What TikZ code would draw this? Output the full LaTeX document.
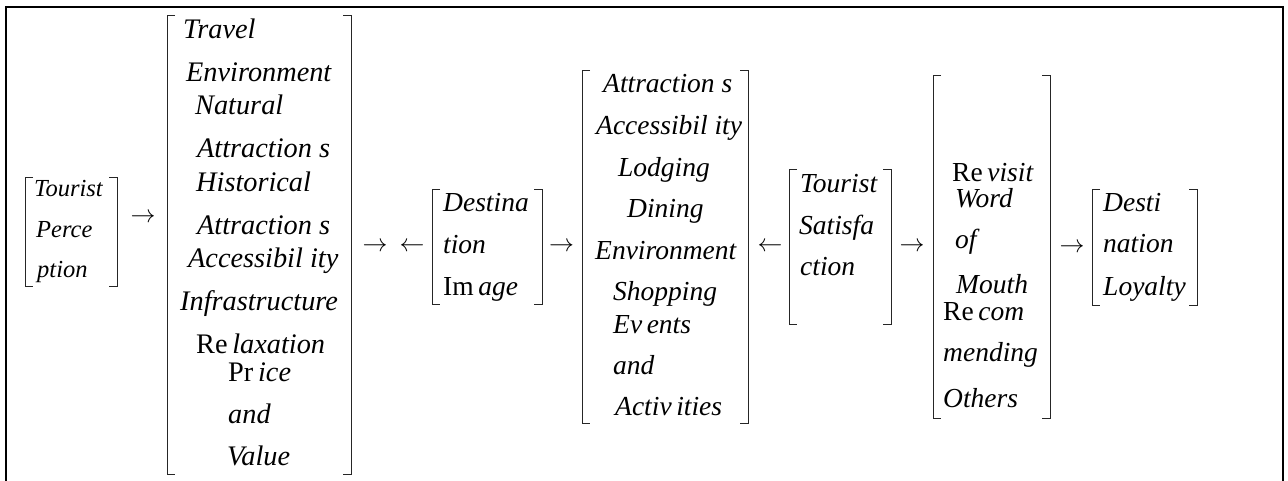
\documentclass[tikz,border=0pt]{standalone}
\usepackage{fontspec}
\setmainfont{Liberation Serif}
\newcommand\drawbrk[1]{%
  \draw[brk] ([xshift=8pt]#1.north west) -- (#1.north west) -- (#1.south west) -- ([xshift=8pt]#1.south west);
  \draw[brk] ([xshift=-8pt]#1.north east) -- (#1.north east) -- (#1.south east) -- ([xshift=-8pt]#1.south east);}
\tikzset{
  brk/.style={line width=0.9pt, black!85},
  frame/.style={line width=2pt, black},
  grp/.style={draw=none, inner sep=0pt, outer sep=0pt},
  lbl/.style={anchor=base west, inner sep=0pt, font=\fontsize{27.5}{30}\selectfont\itshape},
  lblbig/.style={anchor=base west, inner sep=0pt, font=\fontsize{28.3}{30}\selectfont\itshape},
  lblsm/.style={anchor=base west, inner sep=0pt, font=\fontsize{24.5}{27}\selectfont\itshape},
  arr/.style={inner sep=0pt, font=\fontsize{26}{28}\selectfont},
  arrbig/.style={inner sep=0pt, font=\fontsize{30}{32}\selectfont},
}
\begin{document}
\begin{tikzpicture}[x=1pt,y=-1pt]
\useasboundingbox (0,0) rectangle (1288,481);
% frame
\draw[frame] (6,481) -- (6,7) -- (1283,7) -- (1283,481);

% group 1: Tourist Perception
\node[grp, minimum width=92pt, minimum height=109pt] (g1) at (71,231.5) {};
\drawbrk{g1}
\node[lblsm] (g1a) at (34,197) {Tourist};
\node[lblsm] (g1b) at (36,237) {Perce};
\node[lblsm] (g1c) at (37,277) {ption};

\node[arrbig] (a1) at (143,218) {$\rightarrow$};

% group 2: big list
\node[grp, minimum width=184pt, minimum height=459pt] (g2) at (259,244.5) {};
\drawbrk{g2}
\node[lblbig] (g2a) at (183,39) {Travel};
\node[lblbig] (g2b) at (186,82) {Environment};
\node[lblbig] (g2c) at (195,115) {Natural};
\node[lblbig] (g2d) at (197,158) {Attraction s};
\node[lblbig] (g2e) at (196,192) {Historical};
\node[lblbig] (g2f) at (197,235) {Attraction s};
\node[lblbig] (g2g) at (188,268) {Accessibil ity};
\node[lblbig] (g2h) at (180,310) {Infrastructure};
\node[lblbig] (g2i) at (196,353) {{\upshape Re}\,laxation};
\node[lblbig] (g2j) at (228,381) {{\upshape Pr}\,ice};
\node[lblbig] (g2k) at (228,423) {and};
\node[lblbig] (g2l) at (227,465) {Value};

\node[arr] (a2) at (375,247) {$\rightarrow$};
\node[arr] (a3) at (412,247) {$\leftarrow$};

% group 3: Destination Image
\node[grp, minimum width=110pt, minimum height=115pt] (g3) at (487,246.5) {};
\drawbrk{g3}
\node[lbl] (g3a) at (443,212) {Destina};
\node[lbl] (g3b) at (443,254) {tion};
\node[lbl] (g3c) at (443,295) {{\upshape Im}\,age};

\node[arr] (a4) at (561.5,247) {$\rightarrow$};

% group 4: attributes
\node[grp, minimum width=166pt, minimum height=353pt] (g4) at (665,246.5) {};
\drawbrk{g4}
\node[lbl] (g4a) at (603,93) {Attraction s};
\node[lbl] (g4b) at (596,135) {Accessibil ity};
\node[lbl] (g4c) at (618,177) {Lodging};
\node[lbl] (g4d) at (627,218) {Dining};
\node[lbl] (g4e) at (595,259) {Environment};
\node[lbl] (g4f) at (613,300) {Shopping};
\node[lbl] (g4g) at (613,333) {Ev\,ents};
\node[lbl] (g4h) at (613,374) {and};
\node[lbl] (g4i) at (615,415) {Activ\,ities};

\node[arr] (a5) at (770,247) {$\leftarrow$};

% group 5: Tourist Satisfaction
\node[grp, minimum width=102pt, minimum height=155pt] (g5) at (840,246.5) {};
\drawbrk{g5}
\node[lbl] (g5a) at (800,193) {Tourist};
\node[lbl] (g5b) at (799,235) {Satisfa};
\node[lbl] (g5c) at (800,276) {ction};

\node[arr] (a6) at (912,247) {$\rightarrow$};

% group 6: outcomes
\node[grp, minimum width=117pt, minimum height=343pt] (g6) at (991.5,246.5) {};
\drawbrk{g6}
\node[lbl] (g6a) at (952,182) {{\upshape Re}\,visit};
\node[lbl] (g6b) at (955,208) {Word};
\node[lbl] (g6c) at (955,248) {of};
\node[lbl] (g6d) at (956,294) {Mouth};
\node[lbl] (g6e) at (943,320) {{\upshape Re}\,com};
\node[lbl] (g6f) at (943,361) {mending};
\node[lbl] (g6g) at (943,407) {Others};

\node[arr] (a7) at (1072,248) {$\rightarrow$};

% group 7: Destination Loyalty
\node[grp, minimum width=105pt, minimum height=116pt] (g7) at (1144.5,247) {};
\drawbrk{g7}
\node[lbl] (g7a) at (1103,212) {Desti};
\node[lbl] (g7b) at (1103,253) {nation};
\node[lbl] (g7c) at (1103,295) {Loyalty};
\end{tikzpicture}
\end{document}
